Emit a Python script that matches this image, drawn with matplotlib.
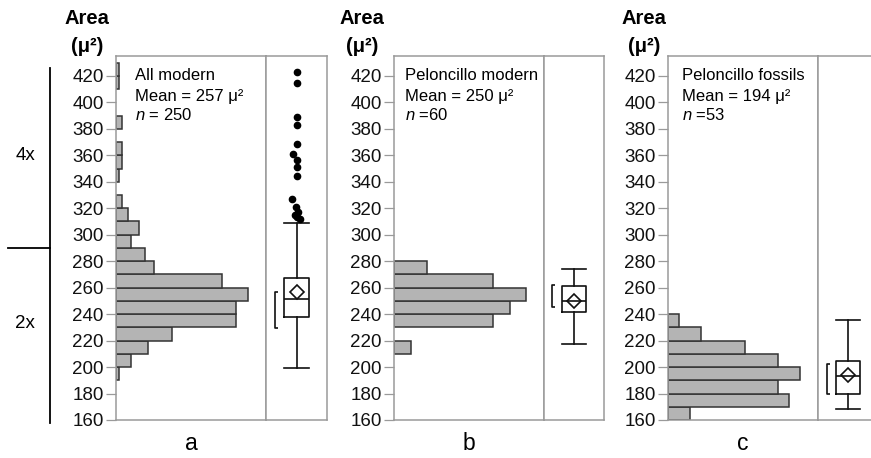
import matplotlib
matplotlib.use('Agg')
import matplotlib.pyplot as plt
from matplotlib.ticker import MultipleLocator, NullLocator
from matplotlib.lines import Line2D
from matplotlib.transforms import blended_transform_factory

plt.rcParams['font.family'] = 'Liberation Sans'
plt.rcParams['mathtext.fontset'] = 'custom'
plt.rcParams['mathtext.rm'] = 'Liberation Sans'
plt.rcParams['mathtext.it'] = 'Liberation Sans:italic'

# histogram data: lower bin edge (bins are 10 wide) and counts
bins_a = [190, 200, 210, 220, 230, 240, 250, 260, 270, 280, 290, 300, 310, 320, 340, 350, 360, 380, 410, 420]
counts_a = [1, 5, 11, 19, 41, 41, 45, 36, 13, 10, 5, 8, 4, 2, 1, 2, 2, 2, 1, 1]
bins_b = [210, 230, 240, 250, 260, 270]
counts_b = [2, 12, 14, 16, 12, 4]
bins_c = [160, 170, 180, 190, 200, 210, 220, 230]
counts_c = [2, 11, 10, 12, 10, 7, 3, 1]

# box plot summaries: whislo, q1, median, q3, whishi, mean
box_a = [199, 237.5, 251.5, 267.5, 309, 257]
box_b = [217.5, 241.5, 250, 261.5, 274, 250]
box_c = [168, 180, 193.3, 204.6, 235.6, 194]
# shortest half brackets
half_a = [229.5, 257]
half_b = [245, 262]
half_c = [179.6, 202.3]
# outliers of panel a and their small sideways jitter
fliers_a = [312, 313.5, 315, 317, 321, 327, 344, 351, 356.5, 361, 368.5, 382.5, 389, 414.5, 423]
fliers_dx = [0.06, 0.01, -0.02, 0.03, -0.01, -0.07, 0, 0, 0, -0.06, 0, 0, 0, 0, 0]

titles = ['All modern', 'Peloncillo modern', 'Peloncillo fossils']
means = ['Mean = 257 μ²', 'Mean = 250 μ²', 'Mean = 194 μ²']
ns = [r'$\it{n}$ = 250', r'$\it{n}$ =60', r'$\it{n}$ =53']
letters = ['a', 'b', 'c']

W, H = 871, 458
fig = plt.figure(figsize=(W / 100, H / 100), dpi=100)

bottom = 1 - 420 / H
height = (420 - 56) / H
hist_left = [116, 394, 668]
hist_w = 150
box_w = [61, 60, 60]
text_left = [135, 405, 682]
area_x = [87, 362, 644]

frame = '#9a9a9a'
all_bins = [bins_a, bins_b, bins_c]
all_counts = [counts_a, counts_b, counts_c]
all_box = [box_a, box_b, box_c]
all_half = [half_a, half_b, half_c]
half_x = [0.15, 0.13, 0.145]

axes_h = []
for i in range(3):
    ax = fig.add_axes([hist_left[i] / W, bottom, hist_w / W, height])
    axb = fig.add_axes([(hist_left[i] + hist_w) / W, bottom, box_w[i] / W, height], sharey=ax)
    axes_h.append(ax)

    ax.barh(all_bins[i], all_counts[i], height=10, align='edge',
            color='#b4b4b4', edgecolor='#333333', linewidth=1.1)
    ax.set_xlim(0, max(all_counts[i]) * 150 / 132)
    ax.set_ylim(160, 435)
    ax.yaxis.set_major_locator(MultipleLocator(20))
    ax.yaxis.set_minor_locator(MultipleLocator(10))
    ax.xaxis.set_major_locator(NullLocator())
    ax.tick_params(axis='y', which='major', length=7, width=0.9, color=frame,
                   labelsize=13.5, pad=2, labelcolor='#111111')
    ax.tick_params(axis='y', which='minor', length=3, width=0.9, color=frame)

    # box plot
    lo, q1, med, q3, hi, mean = all_box[i]
    stats = [{'whislo': lo, 'q1': q1, 'med': med, 'q3': q3, 'whishi': hi,
              'mean': mean, 'fliers': []}]
    lp = dict(color='#111111', linewidth=1.2)
    axb.bxp(stats, positions=[0.5], widths=0.4, capwidths=[0.4], showmeans=True,
            showfliers=False, boxprops=lp, whiskerprops=lp, capprops=lp,
            medianprops=lp,
            meanprops=dict(marker='D', markerfacecolor='none', markeredgecolor='#111111',
                           markersize=7, markeredgewidth=1.2))
    h0, h1 = all_half[i]
    x0 = half_x[i]
    axb.plot([x0 + 0.05, x0, x0, x0 + 0.05], [h0, h0, h1, h1], color='#111111',
             linewidth=1.2, solid_capstyle='butt')
    if i == 0:
        axb.plot([0.5 + d for d in fliers_dx], fliers_a, 'o', color='black',
                 markersize=4.5)
    axb.set_xlim(0, 1)
    axb.tick_params(left=False, labelleft=False, bottom=False, labelbottom=False)
    axb.xaxis.set_major_locator(NullLocator())
    axb.yaxis.set_minor_locator(NullLocator())

    for a in (ax, axb):
        for s in a.spines.values():
            s.set_color(frame)
            s.set_linewidth(1.1)

    # labels
    fig.text(area_x[i] / W, 1 - 19 / H, 'Area', fontsize=14.5, fontweight='bold',
             ha='center', va='center')
    fig.text(area_x[i] / W, 1 - 46 / H, '(μ²)', fontsize=14.5, fontweight='bold',
             ha='center', va='center')
    fig.text(text_left[i] / W, 1 - 76 / H, titles[i], fontsize=12, va='center')
    fig.text(text_left[i] / W, 1 - 96 / H, means[i], fontsize=12, va='center')
    fig.text(text_left[i] / W, 1 - 115 / H, ns[i], fontsize=12, va='center')
    fig.text((hist_left[i] + hist_w / 2) / W, 1 - 444 / H, letters[i], fontsize=16.5,
             ha='center', va='center')

# 4x / 2x magnification marks at the left
tr = blended_transform_factory(fig.transFigure, axes_h[0].transData)
fig.add_artist(Line2D([50 / W, 50 / W], [157.5, 426], transform=tr, color='black',
                      linewidth=1.3, clip_on=False))
fig.add_artist(Line2D([8 / W, 50 / W], [290, 290], transform=tr, color='black',
                      linewidth=1.3, clip_on=False))
fig.text(25 / W, 360, '4x', transform=tr, fontsize=13.5, ha='center', va='center')
fig.text(25 / W, 233, '2x', transform=tr, fontsize=13.5, ha='center', va='center')

fig.savefig('out.png', dpi=100)
